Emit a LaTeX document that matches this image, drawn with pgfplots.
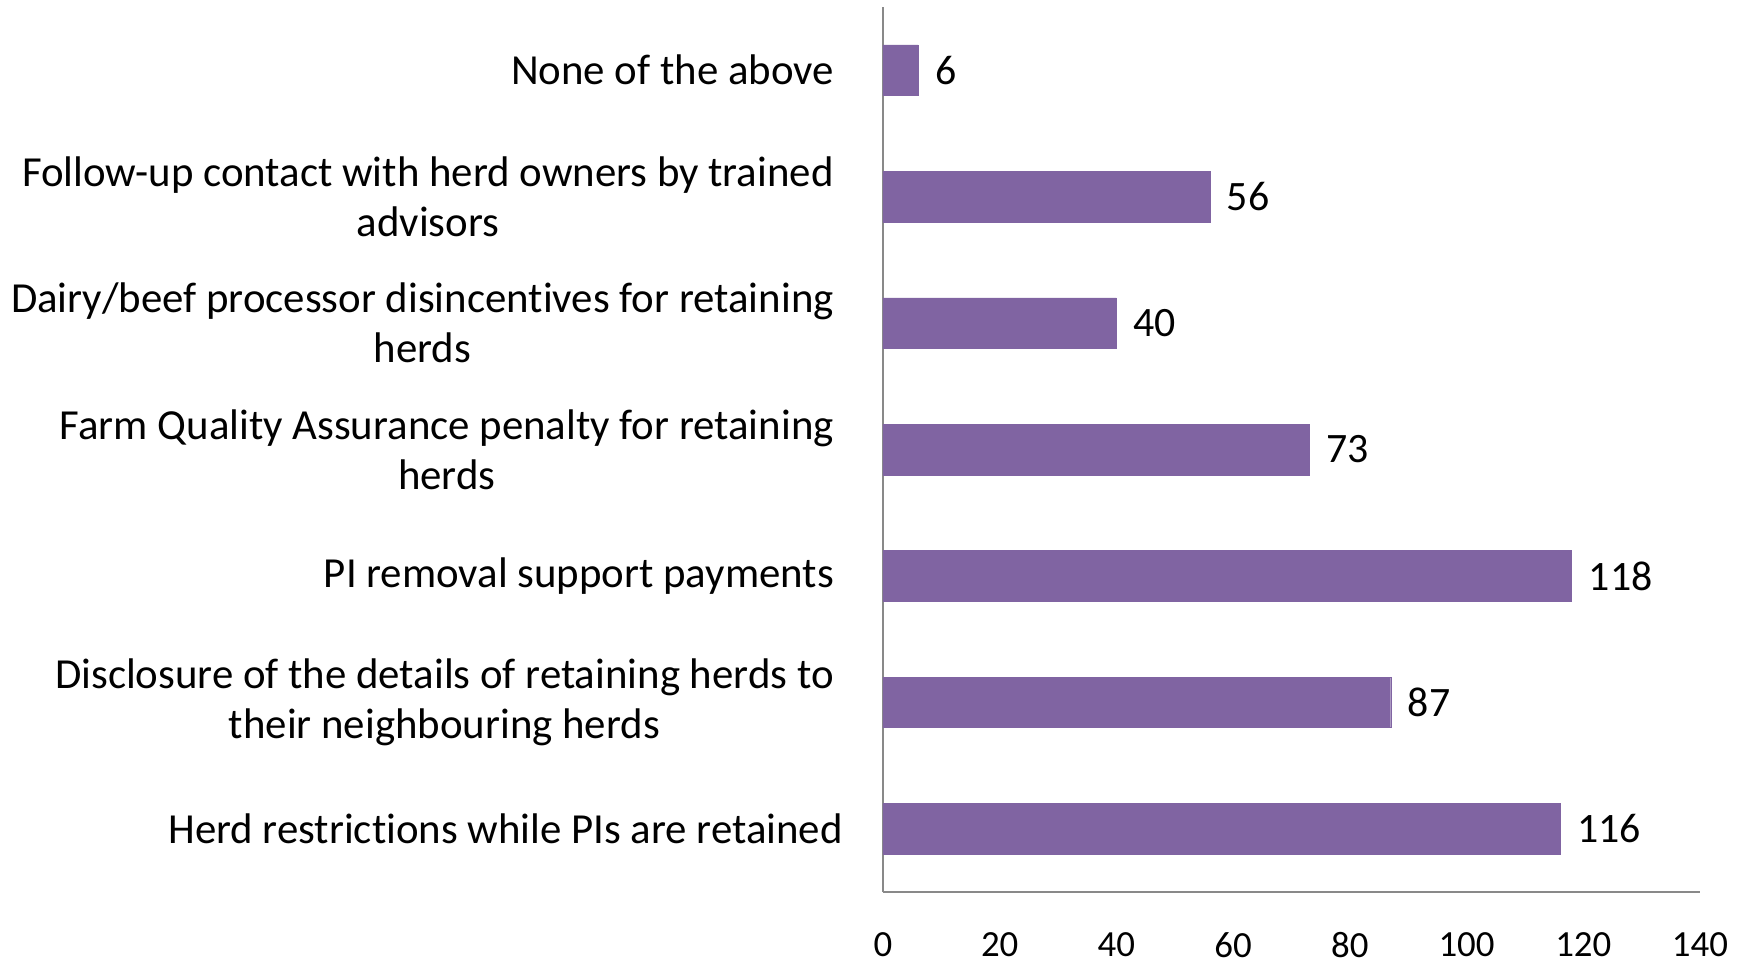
\documentclass[border=0pt]{standalone}
\usepackage{fontspec}
\setmainfont{Carlito}[Ligatures={NoCommon}]
\usepackage{pgfplots}
\pgfplotsset{compat=1.18}
\definecolor{barpurple}{HTML}{8064A2}
\definecolor{axisgray}{HTML}{898989}
\begin{document}
\begin{tikzpicture}
\begin{axis}[
  at={(0,0)}, anchor=south west,
  scale only axis, width=817bp, height=885bp,
  xbar, bar width=0.4,
  xmin=0, xmax=140, ymin=-0.5, ymax=6.5,
  xtick={0,20,...,140},
  ytick={0,...,6},
  yticklabels={
    {Herd restrictions while PIs are retained\hspace*{-9bp}},
    {Disclosure of the details of retaining herds to\\their neighbouring herds},
    {PI removal support payments},
    {Farm Quality Assurance penalty for retaining\\herds},
    {Dairy/beef processor disincentives for retaining\\herds},
    {Follow-up contact with herd owners by trained\\advisors},
    {None of the above}},
  axis lines*=left,
  axis line style={draw=axisgray, line width=2bp},
  major tick length=0pt,
  /pgf/number format/assume math mode=true,
  xticklabel style={font=\fontsize{37}{44}\selectfont, anchor=north, inner sep=0pt, yshift=-40bp},
  yticklabel style={font=\fontsize{43}{50}\selectfont, align=center, anchor=east, inner sep=0pt, xshift=-49bp},
  nodes near coords,
  nodes near coords style={font=\fontsize{42}{50}\selectfont, anchor=west, inner sep=0pt, xshift=17bp, text=black},
  clip=false,
]
\addplot[fill=barpurple, draw=barpurple] coordinates {
  (116,0) (87,1) (118,2) (73,3) (40,4) (56,5) (6,6)
};
\end{axis}
\path (-883bp,-72bp) rectangle (865bp,892bp);
\end{tikzpicture}
\end{document}
